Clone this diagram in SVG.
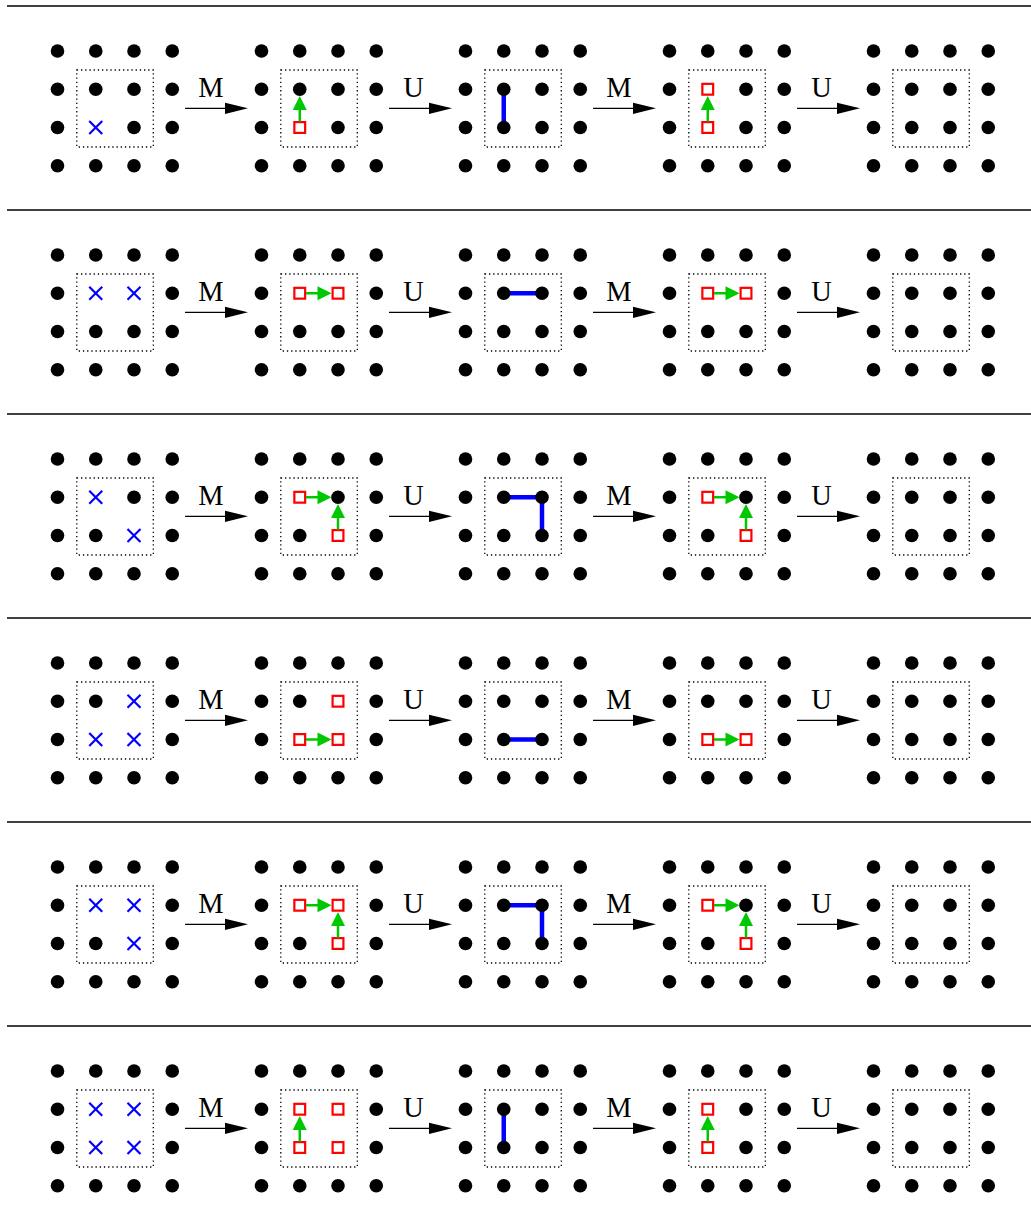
<svg xmlns="http://www.w3.org/2000/svg" width="1031" height="1226" viewBox="0 0 1031 1226">
<style>
.sep{stroke:#000;stroke-width:1.3}
.box{fill:none;stroke:#000;stroke-width:1.3;stroke-dasharray:1.3 2.9}
.x{stroke:#0000ff;stroke-width:2.2;fill:none}
.sq{fill:#fff;stroke:#ff0000;stroke-width:2.2}
.g{stroke:#00c800;stroke-width:2.5;fill:#00c800}
.bl{stroke:#0000ff;stroke-width:4.5;fill:none;stroke-linejoin:miter}
.ar{stroke:#000;stroke-width:1.3}
.ah{fill:#000}
.lb{font-family:"Liberation Serif","Times New Roman",serif;font-size:28.5px;text-anchor:middle;fill:#000}
</style>
<defs>
<circle id="d" r="6.8" fill="#000"/>
<g id="ring">
<use href="#d" x="0" y="0"/><use href="#d" x="38.25" y="0"/><use href="#d" x="76.5" y="0"/><use href="#d" x="114.75" y="0"/>
<use href="#d" x="0" y="38.25"/><use href="#d" x="114.75" y="38.25"/>
<use href="#d" x="0" y="76.5"/><use href="#d" x="114.75" y="76.5"/>
<use href="#d" x="0" y="114.75"/><use href="#d" x="38.25" y="114.75"/><use href="#d" x="76.5" y="114.75"/><use href="#d" x="114.75" y="114.75"/>
<rect class="box" x="19.3" y="19" width="76.5" height="77"/>
</g>
<g id="X" class="x"><line x1="-6.5" y1="-6.5" x2="6.5" y2="6.5"/><line x1="-6.5" y1="6.5" x2="6.5" y2="-6.5"/></g>
<rect id="sq" class="sq" x="-5.4" y="-5.4" width="10.8" height="10.8"/>
<g id="au" class="g"><line x1="0" y1="13" x2="0" y2="25.5"/><polygon stroke="none" points="0,0 -7,14 7,14"/></g>
<g id="ar" class="g"><line x1="-25.5" y1="0" x2="-13" y2="0"/><polygon stroke="none" points="0,0 -14,-7 -14,7"/></g>
</defs>

<g id="separators">
<line class="sep" x1="7" y1="6" x2="1031" y2="6"/>
<line class="sep" x1="7" y1="210" x2="1031" y2="210"/>
<line class="sep" x1="7" y1="414" x2="1031" y2="414"/>
<line class="sep" x1="7" y1="618" x2="1031" y2="618"/>
<line class="sep" x1="7" y1="822" x2="1031" y2="822"/>
<line class="sep" x1="7" y1="1026" x2="1031" y2="1026"/>
</g>

<!-- Row 1 -->
<g id="r1p1" transform="translate(57.5,51)"><use href="#ring"/>
<use href="#d" x="38.25" y="38.25"/><use href="#d" x="76.5" y="38.25"/><use href="#d" x="76.5" y="76.5"/>
<use href="#X" x="38.25" y="76.5"/></g>
<g id="r1p2" transform="translate(261.5,51)"><use href="#ring"/>
<use href="#d" x="38.25" y="38.25"/><use href="#d" x="76.5" y="38.25"/><use href="#d" x="76.5" y="76.5"/>
<use href="#sq" x="38.25" y="76.5"/><use href="#au" x="38.25" y="45"/></g>
<g id="r1p3" transform="translate(465.5,51)"><use href="#ring"/>
<polyline class="bl" points="38.25,38.25 38.25,76.5"/>
<use href="#d" x="38.25" y="38.25"/><use href="#d" x="76.5" y="38.25"/><use href="#d" x="38.25" y="76.5"/><use href="#d" x="76.5" y="76.5"/></g>
<g id="r1p4" transform="translate(669.5,51)"><use href="#ring"/>
<use href="#d" x="76.5" y="38.25"/><use href="#d" x="76.5" y="76.5"/>
<use href="#sq" x="38.25" y="38.25"/><use href="#sq" x="38.25" y="76.5"/><use href="#au" x="38.25" y="45"/></g>
<g id="r1p5" transform="translate(873.5,51)"><use href="#ring"/>
<use href="#d" x="38.25" y="38.25"/><use href="#d" x="76.5" y="38.25"/><use href="#d" x="38.25" y="76.5"/><use href="#d" x="76.5" y="76.5"/></g>

<!-- Row 2 -->
<g id="r2p1" transform="translate(57.5,255)"><use href="#ring"/>
<use href="#d" x="38.25" y="76.5"/><use href="#d" x="76.5" y="76.5"/>
<use href="#X" x="38.25" y="38.25"/><use href="#X" x="76.5" y="38.25"/></g>
<g id="r2p2" transform="translate(261.5,255)"><use href="#ring"/>
<use href="#d" x="38.25" y="76.5"/><use href="#d" x="76.5" y="76.5"/>
<use href="#sq" x="38.25" y="38.25"/><use href="#sq" x="76.5" y="38.25"/><use href="#ar" x="70" y="38.25"/></g>
<g id="r2p3" transform="translate(465.5,255)"><use href="#ring"/>
<polyline class="bl" points="38.25,38.25 76.5,38.25"/>
<use href="#d" x="38.25" y="38.25"/><use href="#d" x="76.5" y="38.25"/><use href="#d" x="38.25" y="76.5"/><use href="#d" x="76.5" y="76.5"/></g>
<g id="r2p4" transform="translate(669.5,255)"><use href="#ring"/>
<use href="#d" x="38.25" y="76.5"/><use href="#d" x="76.5" y="76.5"/>
<use href="#sq" x="38.25" y="38.25"/><use href="#sq" x="76.5" y="38.25"/><use href="#ar" x="70" y="38.25"/></g>
<g id="r2p5" transform="translate(873.5,255)"><use href="#ring"/>
<use href="#d" x="38.25" y="38.25"/><use href="#d" x="76.5" y="38.25"/><use href="#d" x="38.25" y="76.5"/><use href="#d" x="76.5" y="76.5"/></g>

<!-- Row 3 -->
<g id="r3p1" transform="translate(57.5,459)"><use href="#ring"/>
<use href="#d" x="76.5" y="38.25"/><use href="#d" x="38.25" y="76.5"/>
<use href="#X" x="38.25" y="38.25"/><use href="#X" x="76.5" y="76.5"/></g>
<g id="r3p2" transform="translate(261.5,459)"><use href="#ring"/>
<use href="#d" x="76.5" y="38.25"/><use href="#d" x="38.25" y="76.5"/>
<use href="#sq" x="38.25" y="38.25"/><use href="#sq" x="76.5" y="76.5"/><use href="#ar" x="70" y="38.25"/><use href="#au" x="76.5" y="45"/></g>
<g id="r3p3" transform="translate(465.5,459)"><use href="#ring"/>
<polyline class="bl" points="38.25,38.25 76.5,38.25 76.5,76.5"/>
<use href="#d" x="38.25" y="38.25"/><use href="#d" x="76.5" y="38.25"/><use href="#d" x="38.25" y="76.5"/><use href="#d" x="76.5" y="76.5"/></g>
<g id="r3p4" transform="translate(669.5,459)"><use href="#ring"/>
<use href="#d" x="76.5" y="38.25"/><use href="#d" x="38.25" y="76.5"/>
<use href="#sq" x="38.25" y="38.25"/><use href="#sq" x="76.5" y="76.5"/><use href="#ar" x="70" y="38.25"/><use href="#au" x="76.5" y="45"/></g>
<g id="r3p5" transform="translate(873.5,459)"><use href="#ring"/>
<use href="#d" x="38.25" y="38.25"/><use href="#d" x="76.5" y="38.25"/><use href="#d" x="38.25" y="76.5"/><use href="#d" x="76.5" y="76.5"/></g>

<!-- Row 4 -->
<g id="r4p1" transform="translate(57.5,663)"><use href="#ring"/>
<use href="#d" x="38.25" y="38.25"/>
<use href="#X" x="76.5" y="38.25"/><use href="#X" x="38.25" y="76.5"/><use href="#X" x="76.5" y="76.5"/></g>
<g id="r4p2" transform="translate(261.5,663)"><use href="#ring"/>
<use href="#d" x="38.25" y="38.25"/>
<use href="#sq" x="76.5" y="38.25"/><use href="#sq" x="38.25" y="76.5"/><use href="#sq" x="76.5" y="76.5"/><use href="#ar" x="70" y="76.5"/></g>
<g id="r4p3" transform="translate(465.5,663)"><use href="#ring"/>
<polyline class="bl" points="38.25,76.5 76.5,76.5"/>
<use href="#d" x="38.25" y="38.25"/><use href="#d" x="76.5" y="38.25"/><use href="#d" x="38.25" y="76.5"/><use href="#d" x="76.5" y="76.5"/></g>
<g id="r4p4" transform="translate(669.5,663)"><use href="#ring"/>
<use href="#d" x="38.25" y="38.25"/><use href="#d" x="76.5" y="38.25"/>
<use href="#sq" x="38.25" y="76.5"/><use href="#sq" x="76.5" y="76.5"/><use href="#ar" x="70" y="76.5"/></g>
<g id="r4p5" transform="translate(873.5,663)"><use href="#ring"/>
<use href="#d" x="38.25" y="38.25"/><use href="#d" x="76.5" y="38.25"/><use href="#d" x="38.25" y="76.5"/><use href="#d" x="76.5" y="76.5"/></g>

<!-- Row 5 -->
<g id="r5p1" transform="translate(57.5,867)"><use href="#ring"/>
<use href="#d" x="38.25" y="76.5"/>
<use href="#X" x="38.25" y="38.25"/><use href="#X" x="76.5" y="38.25"/><use href="#X" x="76.5" y="76.5"/></g>
<g id="r5p2" transform="translate(261.5,867)"><use href="#ring"/>
<use href="#d" x="38.25" y="76.5"/>
<use href="#sq" x="38.25" y="38.25"/><use href="#sq" x="76.5" y="38.25"/><use href="#sq" x="76.5" y="76.5"/><use href="#ar" x="70" y="38.25"/><use href="#au" x="76.5" y="45"/></g>
<g id="r5p3" transform="translate(465.5,867)"><use href="#ring"/>
<polyline class="bl" points="38.25,38.25 76.5,38.25 76.5,76.5"/>
<use href="#d" x="38.25" y="38.25"/><use href="#d" x="76.5" y="38.25"/><use href="#d" x="38.25" y="76.5"/><use href="#d" x="76.5" y="76.5"/></g>
<g id="r5p4" transform="translate(669.5,867)"><use href="#ring"/>
<use href="#d" x="76.5" y="38.25"/><use href="#d" x="38.25" y="76.5"/>
<use href="#sq" x="38.25" y="38.25"/><use href="#sq" x="76.5" y="76.5"/><use href="#ar" x="70" y="38.25"/><use href="#au" x="76.5" y="45"/></g>
<g id="r5p5" transform="translate(873.5,867)"><use href="#ring"/>
<use href="#d" x="38.25" y="38.25"/><use href="#d" x="76.5" y="38.25"/><use href="#d" x="38.25" y="76.5"/><use href="#d" x="76.5" y="76.5"/></g>

<!-- Row 6 -->
<g id="r6p1" transform="translate(57.5,1071)"><use href="#ring"/>
<use href="#X" x="38.25" y="38.25"/><use href="#X" x="76.5" y="38.25"/><use href="#X" x="38.25" y="76.5"/><use href="#X" x="76.5" y="76.5"/></g>
<g id="r6p2" transform="translate(261.5,1071)"><use href="#ring"/>
<use href="#sq" x="38.25" y="38.25"/><use href="#sq" x="76.5" y="38.25"/><use href="#sq" x="38.25" y="76.5"/><use href="#sq" x="76.5" y="76.5"/><use href="#au" x="38.25" y="45"/></g>
<g id="r6p3" transform="translate(465.5,1071)"><use href="#ring"/>
<polyline class="bl" points="38.25,38.25 38.25,76.5"/>
<use href="#d" x="38.25" y="38.25"/><use href="#d" x="76.5" y="38.25"/><use href="#d" x="38.25" y="76.5"/><use href="#d" x="76.5" y="76.5"/></g>
<g id="r6p4" transform="translate(669.5,1071)"><use href="#ring"/>
<use href="#d" x="76.5" y="38.25"/><use href="#d" x="76.5" y="76.5"/>
<use href="#sq" x="38.25" y="38.25"/><use href="#sq" x="38.25" y="76.5"/><use href="#au" x="38.25" y="45"/></g>
<g id="r6p5" transform="translate(873.5,1071)"><use href="#ring"/>
<use href="#d" x="38.25" y="38.25"/><use href="#d" x="76.5" y="38.25"/><use href="#d" x="38.25" y="76.5"/><use href="#d" x="76.5" y="76.5"/></g>

<defs>
<g id="arM"><line class="ar" x1="0" y1="0" x2="41" y2="0"/><polygon class="ah" points="63,0 40,-5.6 40,5.6"/><text class="lb" x="26" y="-11.6">M</text></g>
<g id="arU"><line class="ar" x1="0" y1="0" x2="41" y2="0"/><polygon class="ah" points="63,0 40,-5.6 40,5.6"/><text class="lb" x="24.5" y="-11.6">U</text></g>
</defs>
<g id="connectors">
<use href="#arM" x="185" y="108.3"/><use href="#arU" x="389" y="108.3"/><use href="#arM" x="593" y="108.3"/><use href="#arU" x="797" y="108.3"/>
<use href="#arM" x="185" y="312.3"/><use href="#arU" x="389" y="312.3"/><use href="#arM" x="593" y="312.3"/><use href="#arU" x="797" y="312.3"/>
<use href="#arM" x="185" y="516.3"/><use href="#arU" x="389" y="516.3"/><use href="#arM" x="593" y="516.3"/><use href="#arU" x="797" y="516.3"/>
<use href="#arM" x="185" y="720.3"/><use href="#arU" x="389" y="720.3"/><use href="#arM" x="593" y="720.3"/><use href="#arU" x="797" y="720.3"/>
<use href="#arM" x="185" y="924.3"/><use href="#arU" x="389" y="924.3"/><use href="#arM" x="593" y="924.3"/><use href="#arU" x="797" y="924.3"/>
<use href="#arM" x="185" y="1128.3"/><use href="#arU" x="389" y="1128.3"/><use href="#arM" x="593" y="1128.3"/><use href="#arU" x="797" y="1128.3"/>
</g>
</svg>
